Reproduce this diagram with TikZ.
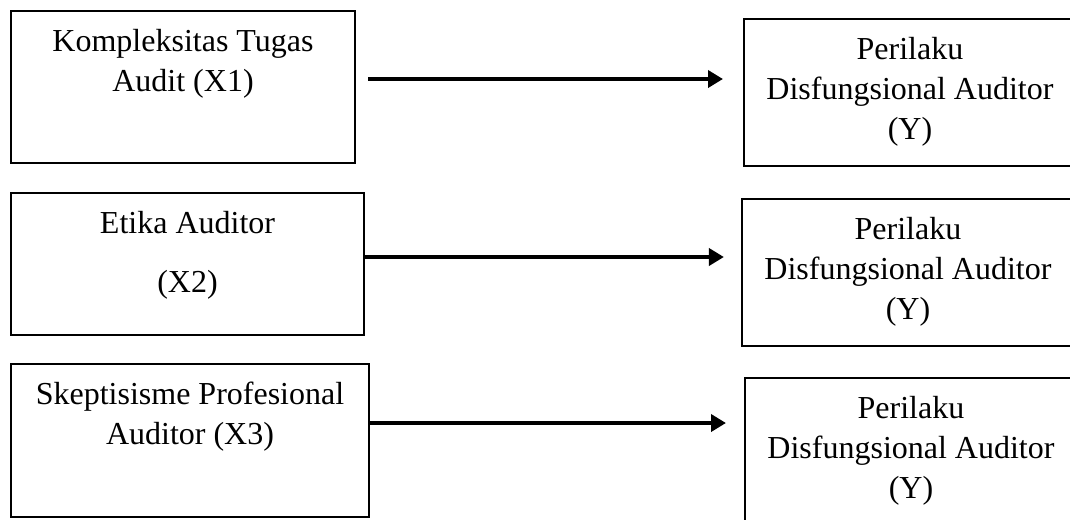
\documentclass[tikz,border=0pt]{standalone}
\usepackage{fontspec}
\setmainfont{Liberation Serif}
\usetikzlibrary{arrows.meta}

\begin{document}
\begin{tikzpicture}[x=0.375pt, y=-0.375pt, every node/.style={align=center},
  varbox/.style={draw, line width=0.8pt, inner sep=0pt},
  boxtext/.style={anchor=north, inner sep=0pt, font=\fontsize{12}{15}\selectfont, yshift=-7pt},
  link/.style={-{Triangle[length=5.6pt, width=6.4pt]}, line width=1.3pt}]
  % Fix the canvas
  \useasboundingbox (0,0) rectangle (1070,519);

  % Independent variables
  \node[varbox, minimum width=129pt, minimum height=57pt] (k1) at (183,87) {};
  \node[boxtext] (k1t) at (k1.north) {Kompleksitas Tugas\\Audit (X1)};

  \node[varbox, minimum width=132.4pt, minimum height=53.2pt] (k2) at (187.5,264) {};
  \node[boxtext] (k2t) at (k2.north) {Etika Auditor\\[7pt](X2)};

  \node[varbox, minimum width=134.2pt, minimum height=57.4pt] (k3) at (190,440.5) {};
  \node[boxtext] (k3t) at (k3.north) {Skeptisisme Profesional\\Auditor (X3)};

  % Dependent variable
  \node[varbox, minimum width=124.5pt, minimum height=55.1pt] (p1) at (910,92.5) {};
  \node[boxtext] (p1t) at (p1.north) {Perilaku\\Disfungsional Auditor\\(Y)};

  \node[varbox, minimum width=124.5pt, minimum height=55.1pt] (p2) at (908,272.5) {};
  \node[boxtext] (p2t) at (p2.north) {Perilaku\\Disfungsional Auditor\\(Y)};

  \node[varbox, minimum width=124.5pt, minimum height=55.1pt] (p3) at (911,451.5) {};
  \node[boxtext] (p3t) at (p3.north) {Perilaku\\Disfungsional Auditor\\(Y)};

  % Arrows
  \coordinate (r1) at (0,79);
  \coordinate (r2) at (0,257);
  \coordinate (r3) at (0,423);
  \draw[link, shorten <=4.5pt, shorten >=7.5pt] (k1.east |- r1) -- (p1.west |- r1);
  \draw[link, shorten >=6.4pt] (k2.east |- r2) -- (p2.west |- r2);
  \draw[link, shorten >=6.75pt] (k3.east |- r3) -- (p3.west |- r3);

\end{tikzpicture}
\end{document}
